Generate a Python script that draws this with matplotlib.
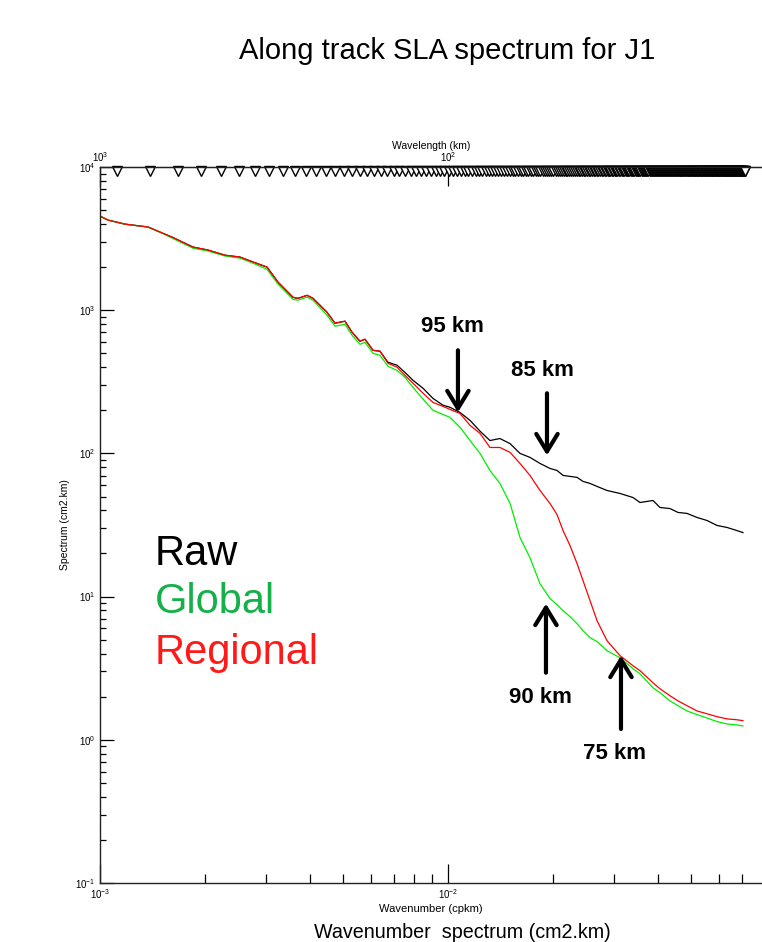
import matplotlib
matplotlib.use('Agg')
import matplotlib.pyplot as plt
from matplotlib import ticker
from matplotlib.transforms import blended_transform_factory
import numpy as np

plt.rcParams['font.family'] = ['Liberation Sans', 'DejaVu Sans']
plt.rcParams['mathtext.default'] = 'regular'

# wavenumber (cpkm)
wavenumber = [
    1.000e-3, 1.054e-3, 1.180e-3, 1.374e-3, 1.488e-3, 1.610e-3, 1.850e-3, 2.043e-3,
    2.287e-3, 2.525e-3, 2.753e-3, 3.019e-3, 3.248e-3, 3.586e-3, 3.707e-3, 3.934e-3,
    4.094e-3, 4.490e-3, 4.734e-3, 5.058e-3, 5.298e-3, 5.586e-3, 5.774e-3, 6.087e-3,
    6.376e-3, 6.723e-3, 7.135e-3, 7.522e-3, 7.932e-3, 8.477e-3, 9.056e-3, 9.674e-3,
    1.013e-2, 1.083e-2, 1.157e-2, 1.236e-2, 1.320e-2, 1.410e-2, 1.508e-2, 1.610e-2,
    1.720e-2, 1.838e-2, 1.964e-2, 2.057e-2, 2.141e-2, 2.242e-2, 2.349e-2, 2.444e-2,
    2.559e-2, 2.681e-2, 2.864e-2, 3.121e-2, 3.401e-2, 3.562e-2, 3.882e-2, 4.066e-2,
    4.344e-2, 4.580e-2, 4.862e-2, 5.194e-2, 5.550e-2, 5.929e-2, 6.334e-2, 6.768e-2,
    7.040e-2,
]

# spectra (cm2.km)
raw = [
    4540, 4260, 3990, 3810, 3510, 3240, 2760, 2630,
    2420, 2350, 2170, 2000, 1570, 1230, 1210, 1270,
    1210, 968, 811, 838, 702, 607, 627, 525,
    517, 433, 413, 368, 324, 285, 242, 217,
    210, 193, 170, 143, 123, 127, 117, 100,
    93.8, 85.1, 78.5, 76.0, 70.2, 69.1, 68.0, 63.7,
    61.7, 58.8, 55.1, 52.5, 49.2, 45.4, 46.9, 41.9,
    41.2, 38.7, 38.1, 35.7, 34.0, 31.4, 30.4, 28.9,
    28.0,
]
global_corr = [
    4540, 4260, 3990, 3810, 3510, 3190, 2710, 2590,
    2390, 2310, 2130, 1930, 1520, 1190, 1175, 1233,
    1175, 923, 773, 798, 669, 578, 597, 500,
    484, 406, 380, 340, 289, 239, 200, 187,
    178.5, 152, 123, 100, 76.0, 61.7, 44.7, 25.9,
    18.7, 12.3, 9.68, 8.79, 7.98, 7.25, 6.47, 5.78,
    5.17, 4.85, 4.19, 3.74, 3.14, 2.89, 2.31, 2.13,
    1.87, 1.73, 1.59, 1.50, 1.42, 1.34, 1.29, 1.27,
    1.25,
]
regional = [
    4540, 4260, 3990, 3810, 3510, 3240, 2760, 2630,
    2420, 2350, 2170, 2000, 1570, 1230, 1210, 1270,
    1210, 968, 811, 838, 702, 607, 627, 525,
    517, 426, 400, 351, 309, 263, 227, 213,
    203, 190, 157, 138, 110, 110, 101.6, 85.1,
    70.2, 55.1, 44.7, 37.4, 28.9, 22.7, 17.0, 12.9,
    9.38, 6.79, 4.92, 3.87, 3.29, 3.04, 2.50, 2.27,
    2.03, 1.87, 1.73, 1.59, 1.52, 1.45, 1.40, 1.38,
    1.36,
]

# spectral bins shown along the top (512 points x 7 km segments)
SEG_LEN_KM = 3584
bin_k = np.arange(4, 257) / SEG_LEN_KM

# label, k, arrow tip, arrow tail, text k, text S
notes = [
    ('95 km', 0.01068, 193.5, 525, 0.01027, 773),
    ('85 km', 0.01925, 96.8, 263, 0.01863, 380),
    ('90 km', 0.01912, 8.93, 2.94, 0.01838, 1.97),
    ('75 km', 0.03141, 3.87, 1.19, 0.03000, 0.798),
]

fig = plt.figure(figsize=(7.62, 9.42), dpi=100)
ax = fig.add_axes([100/762, 1 - 883/942, 662/762, 716/942])

ax.plot(wavenumber, raw, color='black', lw=0.9)
ax.plot(wavenumber, global_corr, color='#00ee00', lw=0.9)
ax.plot(wavenumber, regional, color='#ff0000', lw=0.9)

trans = blended_transform_factory(ax.transData, ax.transAxes)
ax.plot(bin_k, np.full(len(bin_k), 0.9945), 'v', transform=trans, ms=6.5,
        mfc='white', mec='black', mew=1.0, clip_on=False)

ax.set_xscale('log')
ax.set_yscale('log')
ax.set_xlim(1e-3, 10**(-3 + 662/348))
ax.set_ylim(1e-1, 1e4)

ax.spines['right'].set_visible(False)
for s in ['left', 'bottom', 'top']:
    ax.spines[s].set_linewidth(1.0)
    ax.spines[s].set_color('#222222')

ax.yaxis.set_major_locator(ticker.LogLocator(base=10, numticks=10))
ax.yaxis.set_minor_locator(ticker.LogLocator(base=10, subs=np.arange(2, 10), numticks=10))
ax.yaxis.set_minor_formatter(ticker.NullFormatter())
ax.xaxis.set_minor_formatter(ticker.NullFormatter())
ax.tick_params(axis='x', which='major', direction='in', length=14, width=0.9,
               labelsize=7, pad=3, top=False)
ax.tick_params(axis='x', which='minor', direction='in', length=6.5, width=0.9, top=False)
ax.tick_params(axis='y', which='major', direction='in', length=10, width=0.9,
               labelsize=7, pad=3, right=False)
ax.tick_params(axis='y', which='minor', direction='in', length=4.5, width=0.9, right=False)

ax.set_xlabel('Wavenumber (cpkm)', fontsize=8, labelpad=2)
ax.set_ylabel('Spectrum (cm2.km)', fontsize=7.5, labelpad=4)

sec = ax.secondary_xaxis('top', functions=(lambda k: 1 / k, lambda w: 1 / w))
sec.xaxis.set_major_locator(ticker.FixedLocator([1000, 100]))
sec.xaxis.set_major_formatter(ticker.FixedFormatter([r'$10^{3}$', r'$10^{2}$']))
sec.xaxis.set_minor_locator(ticker.NullLocator())
sec.tick_params(axis='x', which='major', direction='in', length=14, width=0.9,
                labelsize=7, pad=2)
sec.set_xlabel('Wavelength (km)', fontsize=7.5, labelpad=1)

for label, k, tip, tail, tk, ts in notes:
    ax.annotate('', xy=(k, tip), xytext=(k, tail),
                arrowprops=dict(arrowstyle='->,head_length=0.9,head_width=0.55',
                                lw=3, color='black', mutation_scale=14,
                                shrinkA=0, shrinkB=0))
    ax.text(tk, ts, label, fontsize=16, fontweight='bold', ha='center', va='center')

ax.text(0.083, 0.444, 'Raw', color='black', fontsize=30, transform=ax.transAxes,
        va='baseline')
ax.text(0.083, 0.377, 'Global', color='#16b04a', fontsize=30, transform=ax.transAxes,
        va='baseline')
ax.text(0.083, 0.306, 'Regional', color='#ff1a1a', fontsize=30, transform=ax.transAxes,
        va='baseline')

fig.text(447/762, 1 - 51/942, 'Along track SLA spectrum for J1', fontsize=21,
         ha='center', va='center')
fig.text(462/762, 1 - 933/942, 'Wavenumber  spectrum (cm2.km)', fontsize=14.2,
         ha='center', va='center')

fig.savefig('out.png', dpi=100)
